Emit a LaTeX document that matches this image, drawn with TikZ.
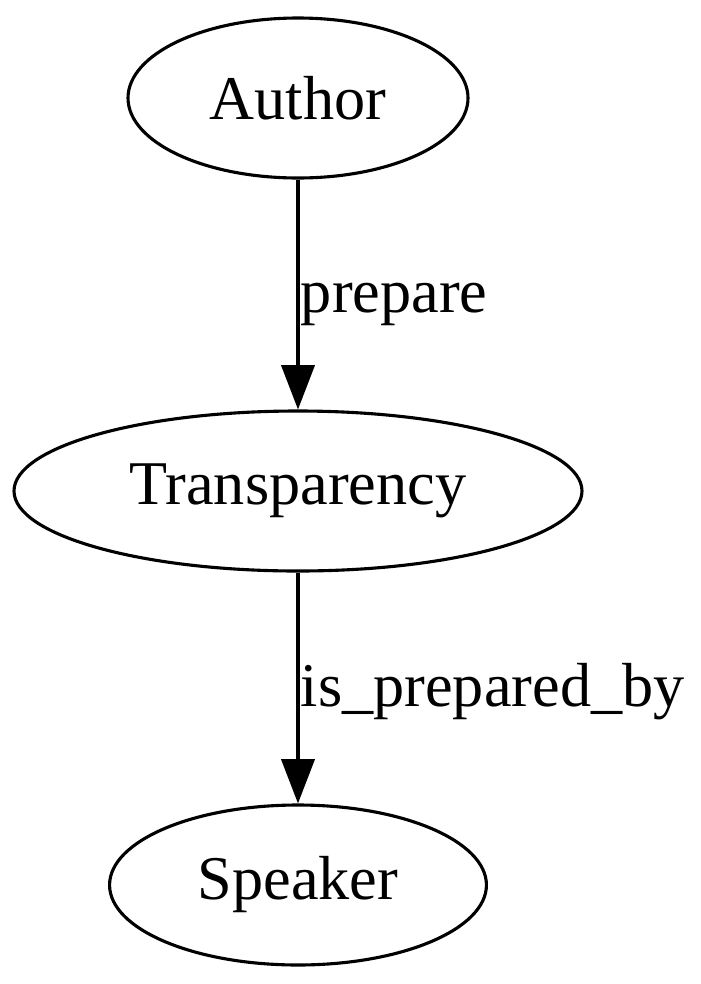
\documentclass[tikz,border=0pt]{standalone}
\usepackage{fontspec}
\setmainfont{Liberation Serif}
\usetikzlibrary{shapes.geometric,arrows.meta}
\begin{document}
\begin{tikzpicture}[x=0.225pt,y=-0.225pt,
  nd/.style={draw,ellipse,line width=0.7pt,inner sep=0pt,minimum height=36pt,font=\fontsize{14pt}{16pt}\selectfont},
  edge/.style={draw,line width=0.7pt,-{Triangle[length=10pt,width=7.5pt]}},
  lbl/.style={anchor=base west,inner sep=0pt,font=\fontsize{14pt}{16pt}\selectfont}]
\useasboundingbox (0,0) rectangle (700,984);
\node[nd,minimum width=76.5pt] (author) at (298,98) {Author};
\node[nd,minimum width=127.8pt] (transp) at (298,491) {Transparency};
\node[nd,minimum width=84.8pt] (speaker) at (298,885) {Speaker};
\draw[edge] (author) -- (transp);
\draw[edge] (transp) -- (speaker);
\node[lbl] (l1) at (300,312) {prepare};
\node[lbl] (l2) at (300,706) {is\_prepared\_by};
\end{tikzpicture}
\end{document}
